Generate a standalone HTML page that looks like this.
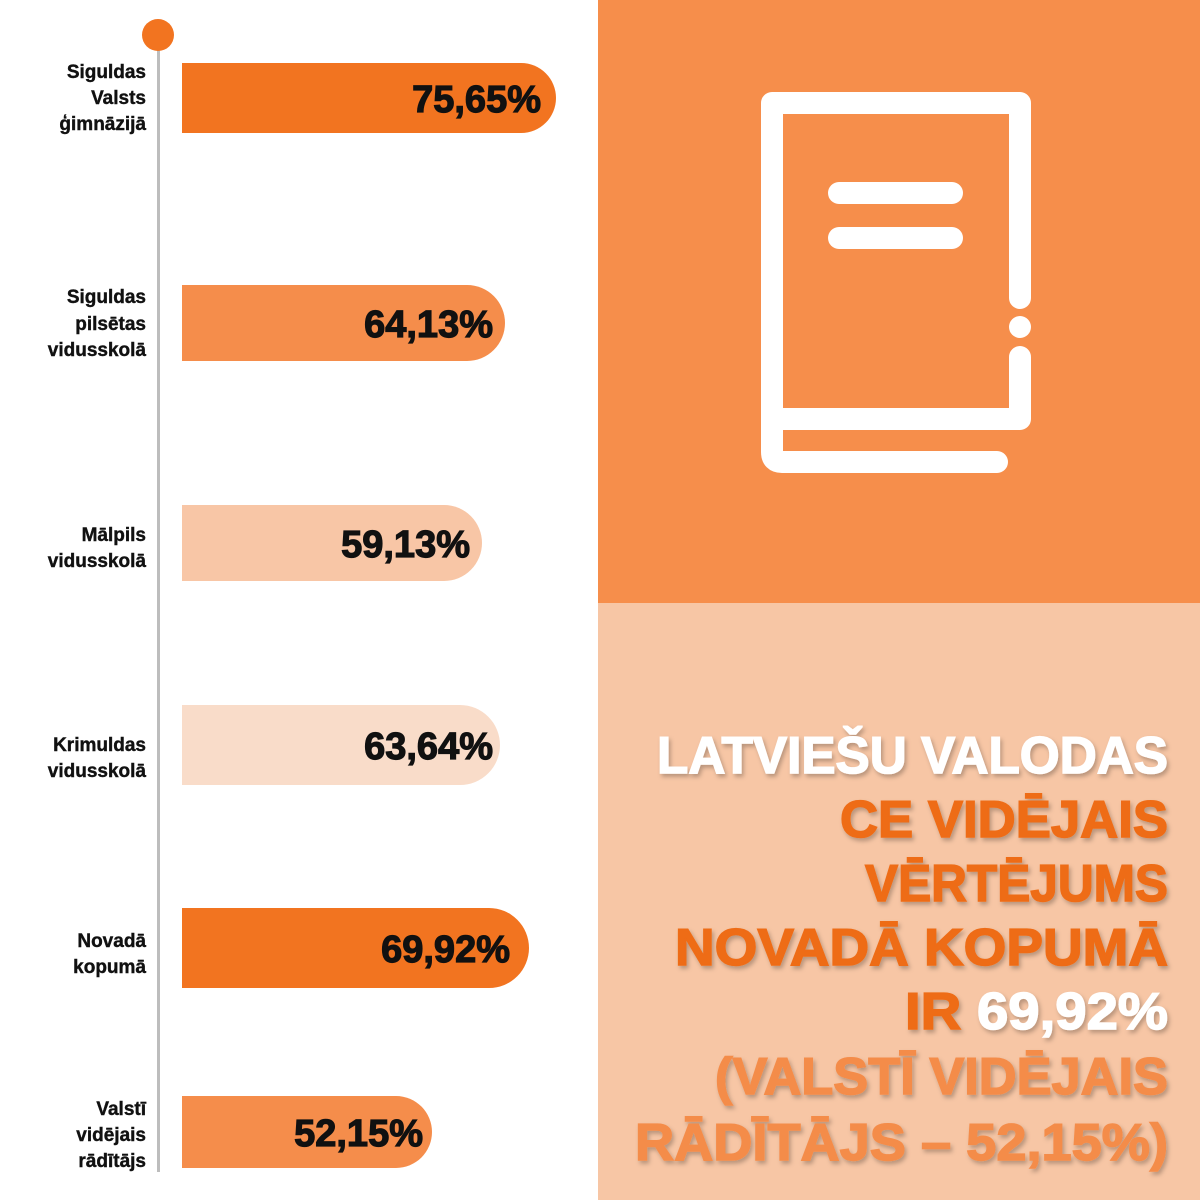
<!DOCTYPE html>
<html><head><meta charset="utf-8"><style>
html,body{margin:0;padding:0;background:#fff;}
svg{display:block;}
.lb{font-family:"Liberation Sans",sans-serif;font-weight:bold;font-size:19px;fill:#111;stroke:#111;stroke-width:0.4;}
.val{font-family:"Liberation Sans",sans-serif;font-weight:bold;font-size:38px;fill:#111;stroke:#111;stroke-width:1.2;}
.big{font-family:"Liberation Sans",sans-serif;font-weight:bold;font-size:52px;stroke-width:1.5;}
</style></head><body>
<svg width="1200" height="1200" viewBox="0 0 1200 1200" xmlns="http://www.w3.org/2000/svg">
<defs><filter id="sh" x="-5%" y="-20%" width="110%" height="140%"><feDropShadow dx="2" dy="3" stdDeviation="2" flood-color="#000" flood-opacity="0.25"/></filter></defs>
<rect width="1200" height="1200" fill="#fff"/>
<rect x="598" y="0" width="602" height="603" fill="#f68e4b"/>
<rect x="598" y="603" width="602" height="597" fill="#f7c6a5"/>
<rect x="157" y="45" width="3" height="1127" fill="#bdbdbd"/>
<circle cx="158" cy="35" r="16" fill="#f27420"/>
<path d="M182,63 H521 A35,35 0 0 1 556,98 A35,35 0 0 1 521,133 H182 Z" fill="#f27420"/>
<path d="M182,285 H467 A38,38 0 0 1 505,323 A38,38 0 0 1 467,361 H182 Z" fill="#f58d4b"/>
<path d="M182,505 H444 A38,38 0 0 1 482,543 A38,38 0 0 1 444,581 H182 Z" fill="#f8c6a6"/>
<path d="M182,705 H460 A40,40 0 0 1 500,745 A40,40 0 0 1 460,785 H182 Z" fill="#f9dcc9"/>
<path d="M182,908 H489 A40,40 0 0 1 529,948 A40,40 0 0 1 489,988 H182 Z" fill="#f27420"/>
<path d="M182,1096 H396 A36,36 0 0 1 432,1132 A36,36 0 0 1 396,1168 H182 Z" fill="#f58d4b"/>
<g class="val" text-anchor="end">
<text x="541" y="112">75,65%</text>
<text x="493" y="337">64,13%</text>
<text x="470" y="557">59,13%</text>
<text x="493" y="759">63,64%</text>
<text x="510" y="962">69,92%</text>
<text x="423" y="1146">52,15%</text>
</g>
<g class="lb" text-anchor="end">
<text x="146" y="78">Siguldas</text><text x="146" y="104">Valsts</text><text x="146" y="130">ģimnāzijā</text>
<text x="146" y="303">Siguldas</text><text x="146" y="330">pilsētas</text><text x="146" y="356">vidusskolā</text>
<text x="146" y="541">Mālpils</text><text x="146" y="567">vidusskolā</text>
<text x="146" y="751">Krimuldas</text><text x="146" y="777">vidusskolā</text>
<text x="146" y="947">Novadā</text><text x="146" y="973">kopumā</text>
<text x="146" y="1115">Valstī</text><text x="146" y="1141">vidējais</text><text x="146" y="1167">rādītājs</text>
</g>
<g fill="none" stroke="#fff" stroke-width="22" stroke-linecap="round" stroke-linejoin="round">
<path d="M1020,298 V103 H772 V452 Q772,462 782,462 H997"/>
<path d="M772,419 H1020 V357"/>
<path d="M839,193 H952"/>
<path d="M839,238 H952"/>
</g>
<circle cx="1020" cy="327" r="11" fill="#fff"/>
<g class="big" text-anchor="end" filter="url(#sh)">
<text x="1168" y="773" fill="#fff" stroke="#fff" textLength="511" lengthAdjust="spacingAndGlyphs">LATVIEŠU VALODAS</text>
<text x="1168" y="837" fill="#ee6c15" stroke="#ee6c15" textLength="328" lengthAdjust="spacingAndGlyphs">CE VIDĒJAIS</text>
<text x="1168" y="901" fill="#ee6c15" stroke="#ee6c15" textLength="303" lengthAdjust="spacingAndGlyphs">VĒRTĒJUMS</text>
<text x="1168" y="965" fill="#ee6c15" stroke="#ee6c15" textLength="493" lengthAdjust="spacingAndGlyphs">NOVADĀ KOPUMĀ</text>
<text x="1168" y="1029" textLength="263" lengthAdjust="spacingAndGlyphs"><tspan fill="#ee6c15" stroke="#ee6c15">IR </tspan><tspan fill="#fff" stroke="#fff">69,92%</tspan></text>
<text x="1168" y="1094" fill="#f48c4a" stroke="#f48c4a" textLength="453" lengthAdjust="spacingAndGlyphs">(VALSTĪ VIDĒJAIS</text>
<text x="1168" y="1160" fill="#f48c4a" stroke="#f48c4a" textLength="533" lengthAdjust="spacingAndGlyphs">RĀDĪTĀJS – 52,15%)</text>
</g>
</svg>
</body></html>
